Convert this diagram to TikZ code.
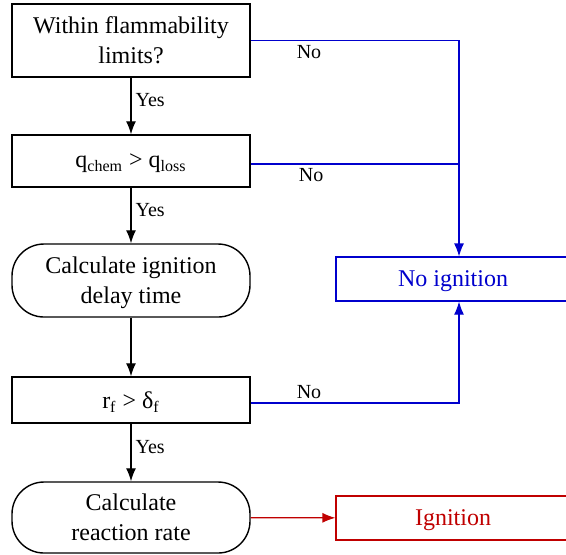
\documentclass[tikz,border=0pt]{standalone}
\usepackage{fontspec}
\setmainfont{Liberation Serif}
\newfontfamily\flowfont{Liberation Serif}
\usepackage{xcolor}
\usetikzlibrary{arrows.meta}
\usetikzlibrary{positioning}
\definecolor{noblue}{RGB}{0,0,205}
\definecolor{yesred}{RGB}{192,0,0}
\tikzset{
process/.style = { rectangle, draw = black, line width = 0.7pt, fill = white, minimum width = 119pt, align = center, text depth = 0pt, font = \flowfont\fontsize{12}{15}\selectfont },
calc/.style = { process, rounded corners = 16pt },
outcome/.style = { rectangle, line width = 0.6pt, fill = white, minimum width = 117pt, minimum height = 22pt, text depth = 0pt, font = \flowfont\fontsize{12}{15}\selectfont },
yes arrow/.style = { draw = black, line width = 0.65pt, -{Latex[length = 6.5pt, width = 5pt]} },
no arrow/.style = { draw = noblue, line width = 0.6pt, -{Latex[length = 6.5pt, width = 5pt]} },
lbl/.style = { black, inner sep = 2pt, font = \flowfont\fontsize{10}{12}\selectfont },
}
\begin{document}
\begin{tikzpicture}[x = 0.5pt, y = -0.5pt]
    \useasboundingbox (0, 0) rectangle (566, 554);
    % left column
    \node[process, minimum height = 36.5pt] (flamm) at (131, 40.5) {Within flammability\\limits?};
    \node[process, minimum height = 26pt] (heat) at (131, 161) {q\textsubscript{chem} > q\textsubscript{loss}};
    \node[calc, minimum height = 36.5pt] (delay) at (131, 280.5) {Calculate ignition\\delay time};
    \node[process, minimum height = 23pt] (radius) at (131, 400) {r\textsubscript{f} > δ\textsubscript{f}};
    \node[calc, minimum height = 35.5pt] (rate) at (131, 517.5) {Calculate\\reaction rate};
    % right column
    \node[outcome, draw = noblue, text = noblue] (noign) at (453, 279) {No ignition};
    \node[outcome, draw = yesred, text = yesred] (ign) at (453, 518) {Ignition};
    \coordinate (noign top) at ([xshift = 3pt]noign.north);
    \coordinate (noign bot) at ([xshift = 3pt]noign.south);
    % yes branches
    \draw[yes arrow] (flamm) -- node[lbl, right, pos = 0.4] {Yes} (heat);
    \draw[yes arrow] (heat) -- node[lbl, right, pos = 0.4] {Yes} (delay);
    \draw[yes arrow] (delay) -- (radius);
    \draw[yes arrow] (radius) -- node[lbl, right, pos = 0.4] {Yes} (rate);
    \draw[draw = yesred, line width = 0.6pt, -{Latex[length = 6.5pt, width = 5pt]}] (rate) -- (ign);
    % no branches
    \draw[no arrow] (flamm.east) -| node[lbl, below, pos = 0.14] {No} (noign top);
    \draw[draw = noblue, line width = 0.6pt] ([yshift = -1.5pt]heat.east) -- node[lbl, below, pos = 0.29] {No} ([yshift = -1.5pt]heat.east -| noign top);
    \draw[no arrow] ([yshift = -1.5pt]radius.east) -| node[lbl, above, pos = 0.14] {No} (noign bot);
\end{tikzpicture}
\end{document}
